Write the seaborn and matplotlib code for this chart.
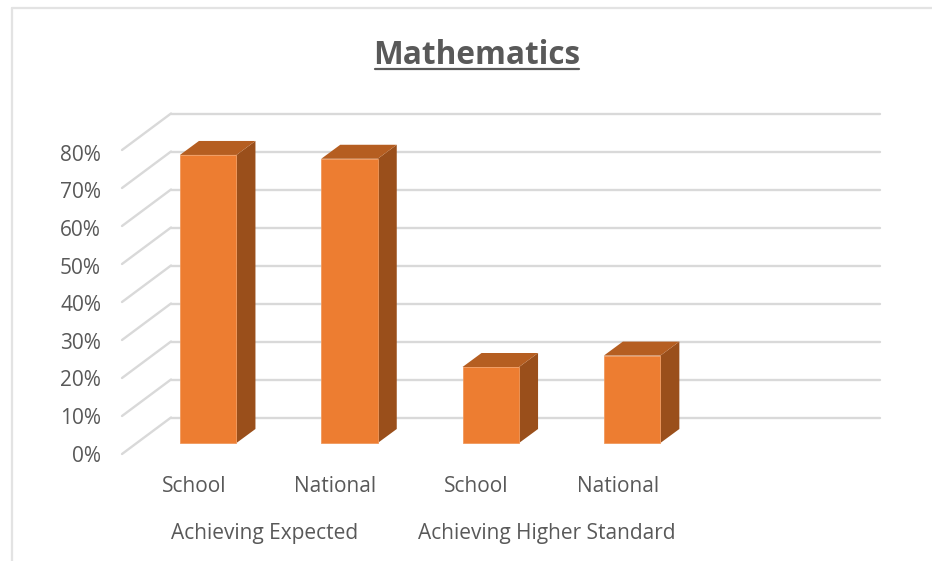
import pandas as pd
import matplotlib
matplotlib.use('Agg')
import matplotlib.pyplot as plt
from matplotlib.patches import Polygon
import seaborn as sns

title = 'Mathematics'
groups = ['Achieving Expected', 'Achieving Higher Standard']
categories = ['School', 'National', 'School', 'National']
bar_groups = [0, 0, 1, 1]
values = [75.8, 74.8, 20, 23]
tick_values = [0, 10, 20, 30, 40, 50, 60, 70, 80]
tick_labels = ['0%', '10%', '20%', '30%', '40%', '50%', '60%', '70%', '80%']

W, H = 932, 561
x0, dx = 208.2, 141.3   # pixel of first bar centre, pixels per category
y0, dy = 443.0, 3.8     # pixel of 0%, pixels per 1%

sns.set_style('white')
plt.rcParams['font.family'] = ['Open Sans', 'DejaVu Sans']

# x and y in the axes are category position and percent
def xpos(p):
    return (p - x0) / dx
def ypos(p):
    return (y0 - p) / dy

data = pd.DataFrame({'bar': [groups[g] + ' ' + c for g, c in zip(bar_groups, categories)], 'value': values})

fig = plt.figure(figsize=(W / 100, H / 100), dpi=100)
ax = fig.add_axes([0, 0, 1, 1])
sns.barplot(data=data, x='bar', y='value', color='#ed7d31', saturation=1, width=56.5 / dx,
            edgecolor='#f1995c', linewidth=0.6, zorder=3, ax=ax)
ax.set_xlim(xpos(0), xpos(W))
ax.set_ylim(ypos(H), ypos(0))
ax.axis('off')

# chart frame
ax.plot([xpos(12), xpos(12)], [ypos(H), ypos(8)], color='#e3e3e3', lw=1.6, zorder=1)
ax.plot([xpos(12), xpos(W)], [ypos(8), ypos(8)], color='#e3e3e3', lw=1.6, zorder=1)

# 3D walls: gridlines on back wall, diagonals on side wall
front_x, back_x, end_x = xpos(122), xpos(171), xpos(880)
shift = 36.5 / dy
floor = (y0 - 454) / dy
for v in tick_values:
    ax.plot([back_x, end_x], [v + floor + shift] * 2, color='#d9d9d9', lw=1.7, zorder=1)
    ax.plot([front_x, back_x], [v + floor, v + floor + shift], color='#d9d9d9', lw=1.7, zorder=1)

# side and top faces of the bars
dep_x, dep_y = 19 / dx, 14 / dy
for bar in ax.patches[:len(values)]:
    l, r, t = bar.get_x(), bar.get_x() + bar.get_width(), bar.get_height()
    ax.add_patch(Polygon([(r, 0), (r + dep_x, dep_y), (r + dep_x, t + dep_y), (r, t)],
                         fc='#9a4f1b', ec='none', zorder=2.5))
    ax.add_patch(Polygon([(l, t), (l + dep_x, t + dep_y), (r + dep_x, t + dep_y), (r, t)],
                         fc='#b55e21', ec='none', zorder=2.5))

text_color = '#595959'
size = 15
for v, lab in zip(tick_values, tick_labels):
    ax.text(xpos(101), ypos(456 - 3.76 * v), lab, ha='right', va='center', fontsize=size, color=text_color)
for i, c in enumerate(categories):
    ax.text(i + xpos(194), ypos(487), c, ha='center', va='center', fontsize=size, color=text_color)
for c, g in zip([264.5, 547], groups):
    ax.text(xpos(c), ypos(533), g, ha='center', va='center', fontsize=size, color=text_color)
ax.text(xpos(477), ypos(56), title, ha='center', va='center', fontsize=22.7, fontweight='bold', color=text_color)
ax.plot([xpos(375), xpos(579)], [ypos(69), ypos(69)], color=text_color, lw=1.6, zorder=3)

fig.savefig('out.png', dpi=100)
